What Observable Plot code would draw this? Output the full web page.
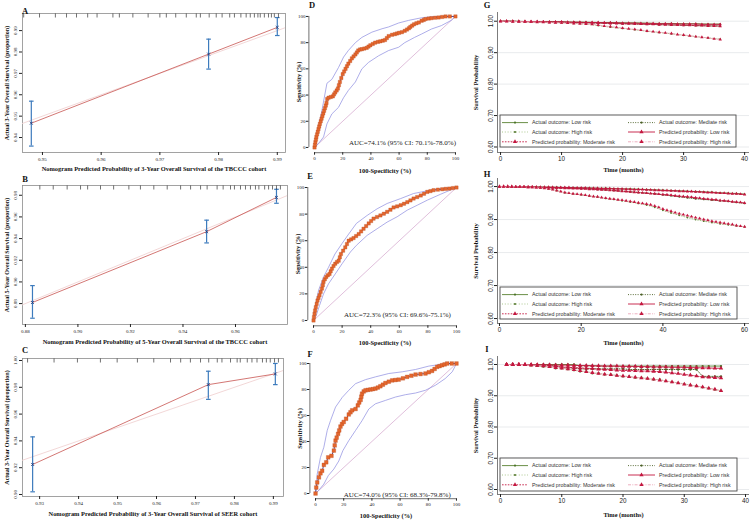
<!DOCTYPE html>
<html><head><meta charset="utf-8">
<script src="https://cdn.jsdelivr.net/npm/d3@7"></script>
<script src="https://cdn.jsdelivr.net/npm/@observablehq/plot@0.6"></script>
<style>
body{margin:0;background:#fff;}
#fig{position:relative;width:753px;height:522px;overflow:hidden;background:#fff;}
.letter{position:absolute;font-family:'Liberation Serif','Times New Roman',serif;font-weight:bold;font-size:8.5px;color:#111;transform:translate(-50%,-50%);line-height:1;}
</style></head><body><div id="fig"></div>
<script>
// ================= DATA =================
// --- Calibration panels A, B, C ---
const calA_pred = [0.9481, 0.9783, 0.9900];
const calA_obs  = [0.9467, 0.9790, 0.9915];
const calA_lo   = [0.9360, 0.9720, 0.9877];
const calA_hi   = [0.9570, 0.9860, 0.9961];
const calA_rug  = [0.9468,0.9495,0.9522,0.9541,0.9558,0.9577,0.9593,0.9620,0.9631,0.9654,0.9680,0.9700,0.9711,0.9727,0.9745,0.9762,0.9769,0.9784,0.9796,0.9806,0.9819,0.9827,0.9838,0.9847,0.9854,0.9861,0.9867,0.9871,0.9878,0.9885,0.9890,0.9895,0.9902];
const calA_xTicks = [0.95,0.96,0.97,0.98,0.99];
const calA_yTicks = [0.94,0.95,0.96,0.97,0.98,0.99];

const calB_pred = [0.8827, 0.9490, 0.9756];
const calB_obs  = [0.8810, 0.9464, 0.9780];
const calB_lo   = [0.8665, 0.9360, 0.9726];
const calB_hi   = [0.8966, 0.9570, 0.9855];
const calB_rug  = [0.8855,0.8906,0.8959,0.9010,0.9037,0.9086,0.9136,0.9194,0.9238,0.9289,0.9340,0.9391,0.9429,0.9467,0.9492,0.9530,0.9553,0.9581,0.9596,0.9619,0.9638,0.9657,0.9676,0.9689,0.9711,0.9726,0.9741,0.9756,0.9771];
const calB_xTicks = [0.88,0.90,0.92,0.94,0.96];
const calB_yTicks = [0.88,0.90,0.92,0.94,0.96,0.98];

const calC_pred = [0.9282, 0.9733, 0.9905];
const calC_obs  = [0.9224, 0.9820, 0.9900];
const calC_lo   = [0.9020, 0.9710, 0.9820];
const calC_hi   = [0.9430, 0.9920, 0.9978];
const calC_rug  = [0.9269,0.9337,0.9397,0.9456,0.9499,0.9551,0.9593,0.9636,0.9662,0.9687,0.9713,0.9734,0.9756,0.9768,0.9790,0.9807,0.9815,0.9833,0.9845,0.9858,0.9872,0.9882,0.9892,0.9903,0.9913];
const calC_xTicks = [0.93,0.94,0.95,0.96,0.97,0.98,0.99];
const calC_yTicks = [0.90,0.92,0.94,0.96,0.98,1.00];

const idealLine = [0.85, 1.01];

const calXLabels = [
  "Nomogram Predicted Probability of 3-Year Overall Survival of the TBCCC cohort",
  "Nomogram Predicted Probability of 5-Year Overall Survival of the TBCCC cohort",
  "Nomogram Predicted Probability of 3-Year Overall Survival of SEER cohort"];
const calYLabels = [
  "Actual 3-Year Overall Survival (proportion)",
  "Actual 5-Year Overall Survival (proportion)",
  "Actual 3-Year Overall Survival (proportion)"];

// --- ROC panels D, E, F : [100-specificity, sensitivity] ---
const rocD = [[0,0],[0.3,2],[0.6,4],[1,6],[1.3,8],[1.8,10],[2.3,12],[2.8,14],[3.3,16],[3.8,18],[4.4,20],[5,22],[5.6,24],[6.2,26],[6.8,28],[7.4,30],[8,32],[8.5,34],[9,37],[10,38],[11.5,38.5],[13,39],[13.8,40.5],[14.7,42],[15.7,43.5],[16.6,45],[17.3,47.5],[18,50],[19,53],[20,56],[21,58],[22,60],[23,62],[24,64],[25.3,66],[26.5,68],[27.7,69.5],[29,71],[30,72.5],[31,74],[32.3,74.8],[33.6,75],[35.3,75.5],[37,76],[38.3,77],[39.6,78],[41.3,79],[43,80],[45,80.6],[46.7,81],[48.4,81.5],[50,82],[51.3,83.5],[52.6,85],[55,86],[57,86.5],[58.5,87],[60,87.5],[62,88],[64,89],[65.6,90],[67,91],[68,92],[69.3,93],[70.6,94],[72.3,94.8],[74,95.4],[76,96.7],[77.5,97.3],[78.7,98],[81,98.4],[83,98.7],[85.5,99],[88,99.2],[90.5,99.6],[93,100],[96,100],[100,100]];
const rocD_upper = [[0,0],[1.7,10.6],[5.2,28],[8.8,49],[12.3,52],[17,61],[20.6,69],[24,74],[29,80],[33.6,84],[40.7,88],[47.9,90.6],[52.6,92],[59.7,95],[66.8,97],[76,99],[86,100],[100,100]];
const rocD_lower = [[0,0],[2.8,3],[6.4,8],[8.8,18],[12.3,25.6],[17,30.6],[20.6,38],[24,43.5],[29,50],[33.6,60],[38.4,65],[45.5,70],[52.6,74],[59.7,76.5],[64,80],[71,84],[76,86.6],[83,90.4],[90,93],[97,97],[100,100]];

const rocE = [[0,0],[0.3,2.5],[0.7,5],[1.1,7.5],[1.6,10],[2.2,12.5],[2.8,15],[3.5,17],[4.2,19],[5,21.5],[5.9,24],[6.5,26.5],[7,29],[7.9,31],[8.9,32.7],[10,34],[11.2,35],[12,37],[12.9,39],[14,41],[15.2,42.7],[16.4,44],[17.6,45],[18.4,47.5],[19.2,50],[20.7,52.5],[22.2,55],[23.4,57.5],[24.6,60],[26.3,61],[28,62],[29.8,63.5],[31.6,65],[33.3,67],[35,69],[36.8,71],[38.6,73],[40.3,74.8],[42,76.6],[44.4,77.8],[46.8,79],[49.2,80.3],[51.5,81.7],[53.8,83.3],[56,85],[58.5,85.8],[61,86.7],[63.3,87.8],[65.6,89],[67.8,90.3],[70,91.7],[72.5,92.8],[75,94],[77.3,95.3],[79.6,96.7],[81.8,97.3],[84,98],[87,98.4],[90,98.7],[92.5,99],[95,99.2],[97.5,99.6],[100,100]];
const rocE_upper = [[0,0],[1.2,10],[3.5,22.6],[7,32.7],[10.5,40],[15,50],[20,58],[24.6,65],[30,73],[37.5,79],[44.5,84],[51.5,88],[61,91.7],[70,95.5],[79.6,97.5],[89,99.2],[100,100]];
const rocE_lower = [[0,0],[1.9,3.8],[4.2,11.3],[7,20],[10.5,27.6],[15.2,35],[20,42.7],[25.8,51.5],[30,56.5],[37.5,64],[44.5,69],[51.5,74],[58.5,78],[65.6,83],[72.6,86.7],[79.6,90.5],[89,95],[100,100]];

const rocF = [[0,0],[0.5,4.6],[1.2,8.5],[2.4,12.4],[3.5,15.5],[4.7,17.5],[5.9,22],[7.6,24],[9,27.8],[11.3,29],[13,33],[13.6,37],[14.2,40.7],[15,43],[16,45.9],[16.8,48.5],[17.7,51.5],[18.8,53.5],[20,55],[21.7,57.5],[23.6,60.8],[24.8,62.5],[26,64],[28.4,65],[30,67.8],[31,70],[32,72],[32.5,74.5],[33,76.8],[34.2,78.5],[35.5,79.4],[37.2,79.7],[39,80],[40.7,80.3],[42.5,80.7],[44.2,81.5],[46,82.5],[47.8,83.7],[49.6,85],[52,86],[54.4,87],[56.7,87.3],[59,87.6],[62,88.6],[65,89.7],[68,90.6],[71,91.5],[74.5,91.9],[78,92.3],[80.4,93.3],[82.7,94.3],[84.5,95.8],[86.3,97.4],[88,98],[89.8,98.7],[91.6,99.3],[93.4,100],[96.7,100],[100,100]];
const rocF_upper = [[0,0],[1.2,15],[3.5,27.8],[5.9,35.6],[8.3,48.5],[10.6,56],[14.2,66.5],[19,74],[23.6,79.4],[28.4,84.5],[35.5,87.6],[42.5,89.7],[52,92.3],[61.5,93.6],[71,95.4],[80.4,98],[89.8,99.5],[100,100]];
const rocF_lower = [[0,0],[2.4,2.6],[5.9,7.2],[9,13.7],[13,18.8],[16.5,25],[19.4,33],[23.6,40.7],[28.4,48.5],[33,56],[37.8,65],[42.5,69],[49.6,71.6],[56.7,74.2],[63.8,76],[71,77.3],[78,79.4],[85,83.2],[92,88.4],[97,93.6],[100,100]];
const rocDiagonal = [[0,0],[100,100]];
const rocTicks = [0,20,40,60,80,100];
const aucLabels = [
  "AUC=74.1% (95% CI: 70.1%-78.0%)",
  "AUC=72.3% (95% CI: 69.6%-75.1%)",
  "AUC=74.0% (95% CI: 68.3%-79.8%)"];

// --- Survival panels G, H, I ---
const gTime = [0,1,2,3,4,5,6,7,8,9,10,11,12,13,14,15,16,17,18,19,20,21,22,23,24,25,26,27,28,29,30,31,32,33,34,35,36];
const gPredLow  = [1.000,1.000,1.000,0.999,0.999,0.999,0.999,0.998,0.998,0.998,0.998,0.997,0.997,0.997,0.996,0.996,0.996,0.995,0.995,0.995,0.994,0.994,0.994,0.993,0.993,0.993,0.992,0.992,0.992,0.991,0.991,0.991,0.991,0.990,0.990,0.990,0.990];
const gPredMod  = [1.000,1.000,0.999,0.999,0.999,0.998,0.998,0.998,0.997,0.997,0.997,0.996,0.996,0.995,0.995,0.995,0.994,0.994,0.993,0.993,0.992,0.992,0.991,0.991,0.990,0.990,0.989,0.989,0.988,0.988,0.987,0.987,0.986,0.986,0.985,0.985,0.984];
const gPredHigh = [1.000,1.000,0.999,0.999,0.998,0.998,0.997,0.997,0.996,0.995,0.995,0.994,0.993,0.992,0.991,0.990,0.988,0.985,0.983,0.981,0.978,0.976,0.974,0.972,0.969,0.967,0.965,0.963,0.961,0.958,0.956,0.954,0.951,0.949,0.947,0.944,0.942];
const gTimeAct = [0,2,4,6,8,10,12,14,16,18,20,22,24,26,28,30,32,34,36];
const gActLow  = [1.000,1.000,0.999,0.999,0.998,0.998,0.997,0.997,0.996,0.996,0.995,0.995,0.994,0.993,0.993,0.992,0.992,0.991,0.991];
const gActMod  = [1.000,1.000,0.999,0.998,0.998,0.997,0.996,0.995,0.994,0.993,0.992,0.991,0.990,0.989,0.988,0.987,0.986,0.985,0.985];
const gActHigh = [1.000,0.999,0.998,0.997,0.996,0.995,0.993,0.991,0.986,0.981,0.977,0.973,0.968,0.964,0.960,0.955,0.951,0.947,0.943];

const hTime = [0,1,2,3,4,5,6,7,8,9,10,11,12,13,14,15,16,17,18,19,20,21,22,23,24,25,26,27,28,29,30,31,32,33,34,35,36,37,38,39,40,41,42,43,44,45,46,47,48,49,50,51,52,53,54,55,56,57,58,59,60];
const hPredLow  = [1.000,1.000,1.000,1.000,0.999,0.999,0.999,0.999,0.999,0.998,0.998,0.998,0.998,0.998,0.997,0.997,0.997,0.997,0.996,0.996,0.996,0.996,0.995,0.995,0.995,0.994,0.994,0.994,0.993,0.993,0.993,0.992,0.992,0.991,0.991,0.991,0.990,0.990,0.989,0.989,0.988,0.988,0.987,0.987,0.986,0.986,0.985,0.985,0.984,0.984,0.983,0.982,0.982,0.981,0.980,0.980,0.979,0.978,0.978,0.977,0.976];
const hPredMod  = [1.000,1.000,1.000,0.999,0.999,0.999,0.999,0.998,0.998,0.998,0.997,0.997,0.997,0.996,0.996,0.996,0.995,0.995,0.994,0.994,0.993,0.993,0.992,0.992,0.991,0.990,0.990,0.989,0.988,0.987,0.986,0.985,0.984,0.983,0.982,0.981,0.980,0.979,0.978,0.977,0.976,0.975,0.974,0.972,0.971,0.970,0.969,0.968,0.966,0.965,0.963,0.962,0.961,0.960,0.958,0.957,0.956,0.954,0.953,0.952,0.950];
const hPredHigh = [1.000,1.000,1.000,1.000,0.999,0.999,0.999,0.998,0.998,0.997,0.996,0.995,0.993,0.991,0.988,0.985,0.982,0.980,0.978,0.977,0.976,0.974,0.972,0.970,0.969,0.967,0.965,0.963,0.962,0.960,0.959,0.957,0.955,0.953,0.951,0.949,0.947,0.945,0.941,0.937,0.932,0.928,0.925,0.921,0.918,0.915,0.912,0.909,0.906,0.903,0.900,0.898,0.895,0.893,0.891,0.889,0.887,0.885,0.882,0.880,0.878];
const hTimeAct = [0,2,4,6,8,10,12,14,16,18,20,22,24,26,28,30,32,34,36,38,40,42,44,46,48,50,52,54,56,58,60];
const hActLow  = [1.000,1.000,0.999,0.999,0.999,0.998,0.998,0.998,0.997,0.997,0.996,0.996,0.995,0.995,0.994,0.993,0.993,0.992,0.991,0.990,0.989,0.988,0.987,0.986,0.985,0.984,0.983,0.981,0.980,0.979,0.977];
const hActMod  = [1.000,1.000,0.999,0.999,0.998,0.998,0.997,0.996,0.996,0.995,0.994,0.993,0.991,0.990,0.988,0.986,0.984,0.982,0.980,0.978,0.975,0.972,0.969,0.966,0.963,0.961,0.959,0.957,0.955,0.952,0.949];
const hActHigh = [1.000,1.000,1.000,0.999,0.998,0.997,0.993,0.988,0.981,0.978,0.975,0.971,0.968,0.964,0.961,0.957,0.953,0.949,0.944,0.937,0.928,0.920,0.913,0.906,0.900,0.895,0.891,0.887,0.884,0.881,0.878];

const iTime = [1,2,3,4,5,6,7,8,9,10,11,12,13,14,15,16,17,18,19,20,21,22,23,24,25,26,27,28,29,30,31,32,33,34,35,36];
const iPredLow  = [1.000,1.000,1.000,1.000,0.999,0.999,0.999,0.999,0.998,0.998,0.998,0.997,0.997,0.997,0.996,0.996,0.995,0.995,0.995,0.994,0.994,0.994,0.993,0.993,0.992,0.992,0.992,0.991,0.991,0.991,0.990,0.990,0.989,0.989,0.988,0.988];
const iPredMod  = [1.000,1.000,1.000,0.999,0.999,0.998,0.996,0.995,0.994,0.992,0.991,0.990,0.989,0.988,0.987,0.985,0.984,0.983,0.982,0.981,0.981,0.980,0.979,0.979,0.978,0.977,0.975,0.973,0.971,0.968,0.966,0.963,0.960,0.959,0.958,0.957];
const iPredHigh = [1.000,1.000,1.000,0.999,0.998,0.997,0.995,0.993,0.990,0.988,0.986,0.983,0.980,0.977,0.974,0.971,0.969,0.967,0.965,0.963,0.961,0.959,0.957,0.955,0.953,0.950,0.947,0.944,0.941,0.937,0.934,0.931,0.928,0.924,0.921,0.916];
const iActLow  = [1.000,1.000,1.000,1.000,1.000,1.000,1.000,1.000,1.000,1.000,1.000,1.000,0.996,0.996,0.996,0.995,0.995,0.995,0.995,0.995,0.995,0.995,0.995,0.995,0.995,0.995,0.995,0.995,0.995,0.995,0.995,0.995,0.995,0.995,0.995,0.995];
const iActMod  = [1.000,1.000,1.000,1.000,1.000,0.996,0.996,0.996,0.996,0.989,0.989,0.989,0.986,0.986,0.986,0.986,0.986,0.986,0.986,0.986,0.984,0.984,0.984,0.984,0.984,0.984,0.984,0.984,0.984,0.984,0.984,0.984,0.962,0.962,0.962,0.962];
const iActHigh = [1.000,1.000,1.000,1.000,0.997,0.997,0.993,0.993,0.988,0.988,0.985,0.982,0.978,0.978,0.972,0.972,0.968,0.968,0.965,0.962,0.962,0.958,0.958,0.955,0.952,0.952,0.947,0.944,0.941,0.938,0.934,0.931,0.927,0.924,0.920,0.916];

const survYTicks = [0.60,0.70,0.80,0.90,1.00];
const gXTicks = [0,10,20,30,40];
const hXTicks = [0,20,40,60];
const iXTicks = [0,10,20,30,40];
const seriesLabels = [
  "Actual outcome: Low risk", "Actual outcome: Mediate risk", "Actual outcome: High risk",
  "Predicted probability: Low risk", "Predicted probability: Moderate risk", "Predicted probability: High risk"];

// ================= DRAWING =================
const fig = document.getElementById("fig");
const SERIF = "'Liberation Serif','Times New Roman',serif";
const SANS = "'Liberation Sans',Arial,sans-serif";

function place(el, left, top) {
  el.style.position = "absolute";
  el.style.left = left + "px";
  el.style.top = top + "px";
  fig.appendChild(el);
}
function letter(t, x, y) {
  const d = document.createElement("div");
  d.className = "letter"; d.textContent = t;
  d.style.left = x + "px"; d.style.top = y + "px";
  fig.appendChild(d);
}

const hCap = {draw(ctx){ ctx.moveTo(-2.3,0); ctx.lineTo(2.3,0); }};
const vTick = {draw(ctx){ ctx.moveTo(0,0); ctx.lineTo(0,4); }};
const f2 = d3.format(".2f");
const MID = {textAnchor:"middle", lineAnchor:"middle"};

function calPanel(o) {
  const pts = o.pred.map((p,i)=>({pred:p, obs:o.obs[i], lo:o.lo[i], hi:o.hi[i]}));
  const svg = Plot.plot({
    width:o.w, height:o.h, marginLeft:o.ml, marginRight:o.mr, marginTop:o.mt, marginBottom:o.mb,
    style:{fontFamily:SERIF, fontSize:"5px", background:"transparent", color:"#222", overflow:"visible"},
    x:{domain:o.xdom}, y:{domain:o.ydom},
    marks:[
      Plot.frame({stroke:"#8c8c8c", strokeWidth:0.8}),
      Plot.line(idealLine.map(v=>({v})), {x:"v", y:"v", stroke:"#f0d2d2", strokeWidth:0.9, clip:true}),
      Plot.line(pts, {x:"pred", y:"obs", stroke:"#c85450", strokeWidth:0.8}),
      Plot.ruleX(pts, {x:"pred", y1:"lo", y2:"hi", stroke:"#3d7bbd", strokeWidth:1.2}),
      Plot.dot(pts, {x:"pred", y:"lo", symbol:hCap, fill:"none", stroke:"#3d7bbd", strokeWidth:1.2}),
      Plot.dot(pts, {x:"pred", y:"hi", symbol:hCap, fill:"none", stroke:"#3d7bbd", strokeWidth:1.2}),
      Plot.dot(pts, {x:"pred", y:"obs", symbol:"times", r:1.5, stroke:"#1f3a7a", strokeWidth:0.8}),
      Plot.dot(o.rug, {x:d=>d, frameAnchor:"top", symbol:vTick, fill:"none", stroke:"#111", strokeWidth:0.6}),
      Plot.axisX({ticks:o.xticks, tickFormat:f2, tickSize:3, tickPadding:1.5, fontSize:5, label:null}),
      Plot.axisY({ticks:o.yticks, tickFormat:()=>"", tickSize:3, label:null}),
      Plot.text(o.yticks, {y:d=>d, text:f2, frameAnchor:"left", dx:-7, rotate:-90, fontSize:5, fill:"#222", ...MID}),
      Plot.text([o.xlabel], {text:d=>d, frameAnchor:"bottom", dy:o.xdy, fontWeight:"bold", fontSize:6.4, fill:"#111", ...MID}),
      Plot.text([o.ylabel], {text:d=>d, frameAnchor:"left", dx:o.ydx, rotate:-90, fontWeight:"bold", fontSize:6.1, fill:"#111", ...MID})
    ]
  });
  place(svg, o.left, o.top);
}

function rocPanel(o) {
  const toObj = a => a.map(([x,y])=>({x,y}));
  const curve = toObj(o.curve);
  const svg = Plot.plot({
    width:o.w, height:o.h, marginLeft:o.ml, marginRight:o.mr, marginTop:o.mt, marginBottom:o.mb,
    style:{fontFamily:SERIF, fontSize:"5px", background:"transparent", color:"#222", overflow:"visible"},
    x:{domain:[-4,104]}, y:{domain:[-4,104]},
    marks:[
      Plot.ruleX([-4], {y1:0, y2:100, stroke:"#333", strokeWidth:0.7}),
      Plot.ruleY([-4], {x1:0, x2:100, stroke:"#333", strokeWidth:0.7}),
      Plot.axisX({ticks:rocTicks, tickSize:2.5, tickPadding:1.5, fontSize:5, label:null}),
      Plot.axisY({ticks:rocTicks, tickSize:2.5, tickPadding:1, fontSize:5, label:null}),
      Plot.line(toObj(rocDiagonal), {x:"x", y:"y", stroke:"#d3a3cc", strokeWidth:0.7}),
      Plot.line(toObj(o.upper), {x:"x", y:"y", stroke:"#8b8be0", strokeWidth:0.7}),
      Plot.line(toObj(o.lower), {x:"x", y:"y", stroke:"#8b8be0", strokeWidth:0.7}),
      Plot.line(curve, {x:"x", y:"y", stroke:"#4a3a8a", strokeWidth:0.9}),
      Plot.dot(curve, {x:"x", y:"y", symbol:"square", r:o.r, fill:"#e5672d", stroke:"#b5461e", strokeWidth:0.3}),
      Plot.text([o.auc], {text:d=>d, x:o.aucX, y:o.aucY, fontSize:7, fill:"#222", ...MID}),
      Plot.text(["100-Specificity (%)"], {text:d=>d, frameAnchor:"bottom", dy:o.xdy, fontWeight:"bold", fontSize:6.4, fill:"#111", ...MID}),
      Plot.text(["Sensitivity (%)"], {text:d=>d, frameAnchor:"left", dx:o.ydx, rotate:-90, fontWeight:"bold", fontSize:6.4, fill:"#111", ...MID})
    ]
  });
  place(svg, o.left, o.top);
}

const styles = [
  {stroke:"#5a8233", dash:null,        sym:"circle",   fill:"#4d7429", r:0.9, sw:0.9},
  {stroke:"#4a5f25", dash:"1,1.4",     sym:"circle",   fill:"#4a5f25", r:0.9, sw:0.9},
  {stroke:"#9fbf7f", dash:"1,1.8",     sym:"circle",   fill:"#56792f", r:0.9, sw:0.9},
  {stroke:"#c3173f", dash:null,        sym:"triangle", fill:"#c3173f", r:1.25, sw:0.9},
  {stroke:"#c3173f", dash:"1.6,1.3",   sym:"triangle", fill:"#c3173f", r:1.25, sw:0.9},
  {stroke:"#eba6b8", dash:"3,1.3,1,1.3", sym:"triangle", fill:"#c3173f", r:1.25, sw:0.9}
];

function survPanel(o) {
  const marks = [
    Plot.ruleY(survYTicks, {stroke:"#e3e6e8", strokeWidth:0.8}),
    Plot.ruleX([o.xdom[0]], {stroke:"#444", strokeWidth:0.7}),
    Plot.ruleY([o.ydom[0]], {stroke:"#444", strokeWidth:0.7}),
    Plot.axisY({ticks:survYTicks, tickFormat:()=>"", tickSize:3, label:null}),
    Plot.text(survYTicks, {y:d=>d, text:f2, frameAnchor:"left", dx:-7, rotate:-90, fontSize:6.3, fontFamily:SANS, fill:"#222", ...MID}),
    Plot.axisX({ticks:o.xticks, tickSize:3, tickPadding:1.5, fontSize:6.3, label:null, fontFamily:SANS}),
  ];
  o.series.forEach((s,k)=>{
    const st = styles[k];
    const data = s.t.map((t,i)=>({t, v:s.v[i]}));
    marks.push(Plot.line(data, {x:"t", y:"v", stroke:st.stroke, strokeWidth:st.sw, strokeDasharray:st.dash||undefined}));
    marks.push(Plot.dot(data, {x:"t", y:"v", symbol:st.sym, r:st.r*o.ms, fill:st.fill, stroke:"none"}));
  });
  marks.push(Plot.text(["Time (months)"], {text:d=>d, frameAnchor:"bottom", dy:o.xdy, fontWeight:"bold", fontSize:6.4, fill:"#111", ...MID}));
  marks.push(Plot.text(["Survival Probability"], {text:d=>d, frameAnchor:"left", dx:o.ydx, rotate:-90, fontWeight:"bold", fontSize:6.4, fill:"#111", ...MID}));
  const svg = Plot.plot({
    width:o.w, height:o.h, marginLeft:o.ml, marginRight:o.mr, marginTop:o.mt, marginBottom:o.mb,
    style:{fontFamily:SERIF, fontSize:"6px", background:"transparent", color:"#222", overflow:"visible"},
    x:{domain:o.xdom}, y:{domain:o.ydom},
    marks
  });
  // legend box inside the plot region (svg pixel space)
  const g = d3.select(svg).append("g").attr("font-family", SANS).attr("font-size", 5.3)
    .attr("text-anchor", "start").style("text-anchor", "start");
  const bx = o.lg.x, by = o.lg.y, bw = o.lg.w, bh = o.lg.h;
  g.append("rect").attr("x", bx).attr("y", by).attr("width", bw).attr("height", bh)
    .attr("fill", "#ffffff").attr("stroke", "#4a4a4a").attr("stroke-width", 0.9);
  const rows = [7.6, 17, 26.8];
  const cols = [{x0:2, x1:28, tx:32}, {x0:128, x1:155, tx:159}];
  seriesLabels.forEach((lab,k)=>{
    const st = styles[k];
    const r = Math.floor(k/2), c = k%2;
    const y = by + rows[r];
    const col = cols[c];
    g.append("line").attr("x1", bx+col.x0).attr("x2", bx+col.x1).attr("y1", y).attr("y2", y)
      .attr("stroke", st.stroke).attr("stroke-width", st.sw).attr("stroke-dasharray", st.dash || null);
    const cx = bx + (col.x0+col.x1)/2;
    if (st.sym === "circle") {
      g.append("circle").attr("cx", cx).attr("cy", y).attr("r", 1.1).attr("fill", st.fill);
    } else {
      g.append("path").attr("d", d3.symbol(d3.symbolTriangle, 8)()).attr("transform", `translate(${cx},${y})`).attr("fill", st.fill);
    }
    g.append("text").attr("x", bx+col.tx).attr("y", y).attr("dy", "0.35em").attr("fill", "#333")
      .style("text-anchor", "start").text(lab);
  });
  place(svg, o.left, o.top);
}

// ---- Calibration panels ----
calPanel({pred:calA_pred, obs:calA_obs, lo:calA_lo, hi:calA_hi, rug:calA_rug, xticks:calA_xTicks, yticks:calA_yTicks,
  xdom:[0.9466,0.9914], ydom:[0.933,0.998], xlabel:calXLabels[0], ylabel:calYLabels[0],
  left:0, top:0, w:292, h:175, ml:22, mr:7, mt:13, mb:23, xdy:16, ydx:-15});
calPanel({pred:calB_pred, obs:calB_obs, lo:calB_lo, hi:calB_hi, rug:calB_rug, xticks:calB_xTicks, yticks:calB_yTicks,
  xdom:[0.8789,0.9798], ydom:[0.8607,0.989], xlabel:calXLabels[1], ylabel:calYLabels[1],
  left:0, top:170, w:292, h:175, ml:22, mr:5, mt:15, mb:21, xdy:17, ydx:-15});
calPanel({pred:calC_pred, obs:calC_obs, lo:calC_lo, hi:calC_hi, rug:calC_rug, xticks:calC_xTicks, yticks:calC_yTicks,
  xdom:[0.9256,0.9926], ydom:[0.8985,1.0015], xlabel:calXLabels[2], ylabel:calYLabels[2],
  left:0, top:340, w:292, h:182, ml:22, mr:9, mt:18, mb:26, xdy:17, ydx:-15});

// ---- ROC panels ----
rocPanel({curve:rocD, upper:rocD_upper, lower:rocD_lower, auc:aucLabels[0], aucX:62.4, aucY:3.8, r:1.9,
  left:258, top:0, w:250, h:175, ml:50.4, mr:47.4, mt:10.7, mb:22.8, xdy:18, ydx:-10});
rocPanel({curve:rocE, upper:rocE_upper, lower:rocE_lower, auc:aucLabels[1], aucX:58.7, aucY:4.5, r:1.9,
  left:258, top:170, w:250, h:177, ml:49.3, mr:46.3, mt:11.7, mb:21.7, xdy:16.7, ydx:-10});
rocPanel({curve:rocF, upper:rocF_upper, lower:rocF_lower, auc:aucLabels[2], aucX:58, aucY:-1, r:2.1,
  left:258, top:345, w:250, h:177, ml:51.4, mr:46.4, mt:12.8, mb:23.8, xdy:16.8, ydx:-10});

// ---- Survival panels ----
survPanel({left:465, top:0, w:288, h:175, ml:32, mr:4, mt:12, mb:23, xdom:[-0.5,40.8], ydom:[0.5825,1.0277],
  xticks:gXTicks, xdy:17, ydx:-22, ms:1.0, lg:{x:35, y:115, w:236, h:32},
  series:[{t:gTimeAct,v:gActLow},{t:gTimeAct,v:gActMod},{t:gTimeAct,v:gActHigh},{t:gTime,v:gPredLow},{t:gTime,v:gPredMod},{t:gTime,v:gPredHigh}]});
survPanel({left:465, top:170, w:288, h:175, ml:32, mr:4, mt:8, mb:22, xdom:[-0.49,61.2], ydom:[0.585,1.0244],
  xticks:hXTicks, xdy:19, ydx:-22, ms:1.0, lg:{x:35, y:117, w:237, h:32},
  series:[{t:hTimeAct,v:hActLow},{t:hTimeAct,v:hActMod},{t:hTimeAct,v:hActHigh},{t:hTime,v:hPredLow},{t:hTime,v:hPredMod},{t:hTime,v:hPredHigh}]});
survPanel({left:465, top:340, w:288, h:182, ml:32, mr:4, mt:16, mb:28, xdom:[-0.49,40.65], ydom:[0.584,1.0256],
  xticks:iXTicks, xdy:20, ydx:-22, ms:1.3, lg:{x:35, y:118, w:237, h:33},
  series:[{t:iTime,v:iActLow},{t:iTime,v:iActMod},{t:iTime,v:iActHigh},{t:iTime,v:iPredLow},{t:iTime,v:iPredMod},{t:iTime,v:iPredHigh}]});

// ---- Panel letters ----
letter("A", 25, 11); letter("B", 25, 179); letter("C", 25, 350);
letter("D", 312, 5); letter("E", 310, 176); letter("F", 310, 354);
letter("G", 487, 5); letter("H", 487, 174); letter("I", 487, 349);
</script></body></html>
